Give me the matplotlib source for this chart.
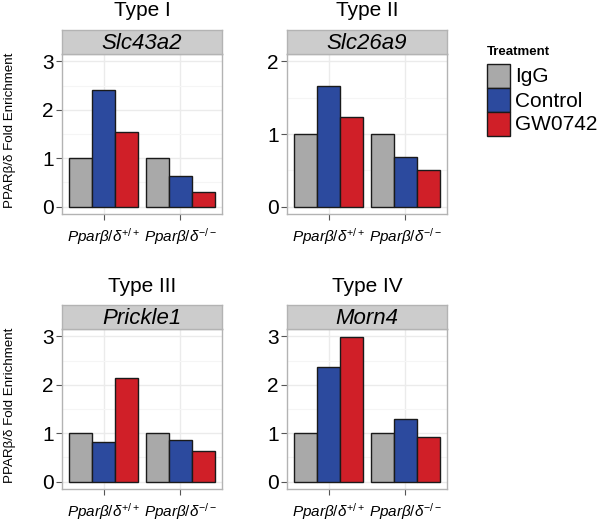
import matplotlib
matplotlib.use("Agg")
import matplotlib.pyplot as plt
from matplotlib.patches import Rectangle
from matplotlib.ticker import MultipleLocator
import numpy as np

plt.rcParams['font.family'] = ['Liberation Sans', 'DejaVu Sans']
plt.rcParams['mathtext.fontset'] = 'custom'
plt.rcParams['mathtext.rm'] = 'Liberation Sans'
plt.rcParams['mathtext.it'] = 'Liberation Sans:italic'
plt.rcParams['mathtext.bf'] = 'Liberation Sans:bold'

# data
genotypes = [r'$Ppar\beta/\delta^{+/+}$', r'$Ppar\beta/\delta^{-/-}$']
treatments = ['IgG', 'Control', 'GW0742']
colors = ['#A9A9A9', '#2C4A9E', '#D01F28']

types = ['Type I', 'Type II', 'Type III', 'Type IV']
genes = ['Slc43a2', 'Slc26a9', 'Prickle1', 'Morn4']
y_tops = [3, 2, 3, 3]

# rows: IgG, Control, GW0742 ; cols: +/+, -/-
slc43a2 = [[1.0, 1.0], [2.40, 0.64], [1.55, 0.30]]
slc26a9 = [[1.0, 1.0], [1.66, 0.69], [1.24, 0.50]]
prickle1 = [[1.0, 1.0], [0.81, 0.86], [2.14, 0.63]]
morn4 = [[1.0, 1.0], [2.37, 1.29], [2.99, 0.93]]
all_values = [slc43a2, slc26a9, prickle1, morn4]

W, H = 600, 523
fig = plt.figure(figsize=(W / 100, H / 100), dpi=100)

# panel boxes in pixels: (left, top of plot area)
boxes = [(62, 54), (287, 54), (62, 329), (287, 329)]
pw, ph, sh = 160, 160, 24

bar_w = 0.3
x = np.arange(1, len(genotypes) + 1)

for i, (left, top) in enumerate(boxes):
    ax = fig.add_axes([left / W, 1 - (top + ph) / H, pw / W, ph / H])
    vals = np.array(all_values[i])
    for j, t in enumerate(treatments):
        ax.bar(x + (j - 1) * bar_w, vals[j], width=bar_w, color=colors[j],
               edgecolor='#1a1a1a', linewidth=1.0, zorder=3)
    top_val = y_tops[i]
    ax.set_xlim(0.46, 2.54)
    ax.set_ylim(-0.05 * top_val, top_val * 1.05)
    ax.yaxis.set_major_locator(MultipleLocator(1))
    ax.yaxis.set_minor_locator(MultipleLocator(0.5))
    ax.set_xticks(x)
    ax.set_xticklabels(genotypes, fontsize=11)
    ax.tick_params(axis='y', labelsize=15, length=4, color='#555555', pad=2)
    ax.tick_params(axis='x', length=4, color='#555555', pad=5)
    ax.tick_params(axis='y', which='minor', length=0)
    ax.grid(True, which='major', color='#EBEBEB', linewidth=1.0, zorder=0)
    ax.grid(True, which='minor', axis='y', color='#F5F5F5', linewidth=0.8, zorder=0)
    for s in ax.spines.values():
        s.set_color('#B3B3B3')
        s.set_linewidth(1.0)
    ax.set_axisbelow(True)

    # facet strip
    sax = fig.add_axes([left / W, 1 - top / H, pw / W, sh / H])
    sax.set_facecolor('#CCCCCC')
    sax.set_xticks([])
    sax.set_yticks([])
    for s in sax.spines.values():
        s.set_color('#B3B3B3')
        s.set_linewidth(1.0)
    sax.text(0.5, 0.45, genes[i], style='italic', fontsize=16,
             ha='center', va='center', transform=sax.transAxes)
    fig.text((left + pw / 2) / W, 1 - (top - sh - 19) / H, types[i],
             fontsize=15, ha='center', va='center')

    if i % 2 == 0:
        fig.text(10 / W, 1 - (top + ph / 2 - 4) / H, 'PPARβ/δ Fold Enrichment',
                 rotation=90, fontsize=9.6, ha='center', va='center')

# legend drawn by hand so the keys stack without gaps like ggplot
key_x, key_top, key_w, key_h = 487, 64, 23, 24
fig.text(key_x / W, 1 - 52 / H, 'Treatment', fontsize=9.5, fontweight='bold',
         ha='left', va='center')
for j, (t, c) in enumerate(zip(treatments, colors)):
    y0 = key_top + key_h * j
    fig.add_artist(Rectangle((key_x / W, 1 - (y0 + key_h) / H), key_w / W, key_h / H,
                             transform=fig.transFigure, facecolor=c,
                             edgecolor='#1a1a1a', linewidth=1.0))
    fig.text((key_x + key_w + 5) / W, 1 - (y0 + key_h / 2 + 1) / H, t,
             fontsize=15, ha='left', va='center')

fig.savefig('out.png', dpi=100, facecolor='white')
